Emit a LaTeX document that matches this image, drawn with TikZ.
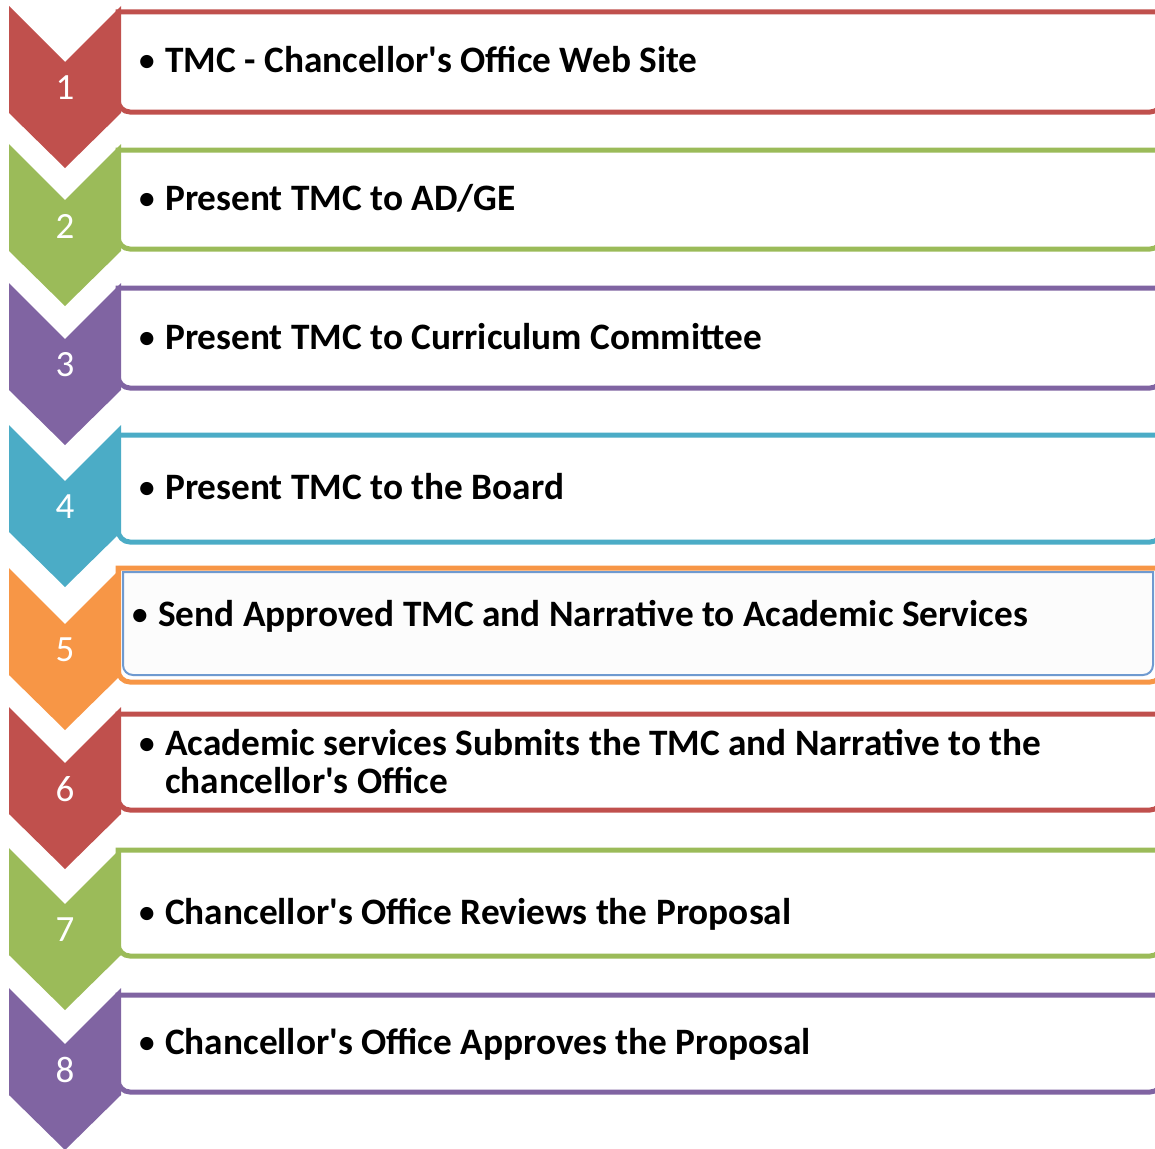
\documentclass[tikz,border=0pt]{standalone}
\usepackage{fontspec}
\setmainfont{Carlito}[Ligatures=TeXOff]
\definecolor{cred}{HTML}{C0504D}
\definecolor{cgreen}{HTML}{9BBB59}
\definecolor{cpurple}{HTML}{8064A2}
\definecolor{ccyan}{HTML}{4BACC6}
\definecolor{corange}{HTML}{F79646}
\definecolor{cselect}{HTML}{6F9AD0}
\definecolor{cpale}{HTML}{FCFCFC}
\tikzset{chev/.style={fill=#1,draw=none}}
\tikzset{stepframe/.style={draw=#1,line width=5pt,fill=white}}
\tikzset{numtext/.style={text=white,inner sep=0pt,font=\fontsize{37}{40}\selectfont}}
\tikzset{steptext/.style={anchor=base west,align=left,inner sep=0pt,font=\fontsize{37.3}{38}\selectfont\bfseries}}

\begin{document}
\begin{tikzpicture}[x=1pt,y=-1pt]
    \useasboundingbox (0,0) rectangle (1155,1148);
    \clip (0,0) rectangle (1155,1148);
    % frames and chevrons
    \foreach \i/\c/\t/\bt/\bb in {1/cred/6/12/112, 2/cgreen/144/150/249, 3/cpurple/283/288/388, 4/ccyan/425/435/542, 5/corange/568/568/682, 6/cred/707/714/810, 7/cgreen/848/850/956, 8/cpurple/988/995/1092}{
        \draw[stepframe=\c] (118,\bt) -- (1162,\bt) [rounded corners=12] -- (1162,\bb) -- (118,\bb) [sharp corners] -- cycle;
        \fill[chev=\c] (9,\t) -- (65,\t+56) -- (121,\t) -- (121,\t+107) -- (65,\t+162) -- (9,\t+107) -- cycle;
        \node[numtext] (n\i) at (65,\t+82) {\i};
    }
    % selected box
    \draw[cselect,line width=2pt,fill=cpale] (123,572) -- (1153,572) [rounded corners=10] -- (1153,675) -- (123,675) [sharp corners] -- cycle;
    % texts
    \foreach \i/\x/\y/\txt in {1/165/72/{TMC - Chancellor's Office Web Site}, 2/165/210/{Present TMC to AD/GE}, 3/165/349/{Present TMC to Curriculum Committee}, 4/165/499/{Present TMC to the Board}, 5/158/626/{Send Approved TMC and Narrative to Academic Services}, 6/165/793/{Academic services Submits the TMC and Narrative to the\\chancellor's Office}, 7/165/924/{Chancellor's Office Reviews the Proposal}, 8/165/1054/{Chancellor's Office Approves the Proposal}}{
        \node[steptext] (t\i) at (\x,\y) {\llap{\mdseries•\hspace{9pt}}\txt};
    }
\end{tikzpicture}
\end{document}
